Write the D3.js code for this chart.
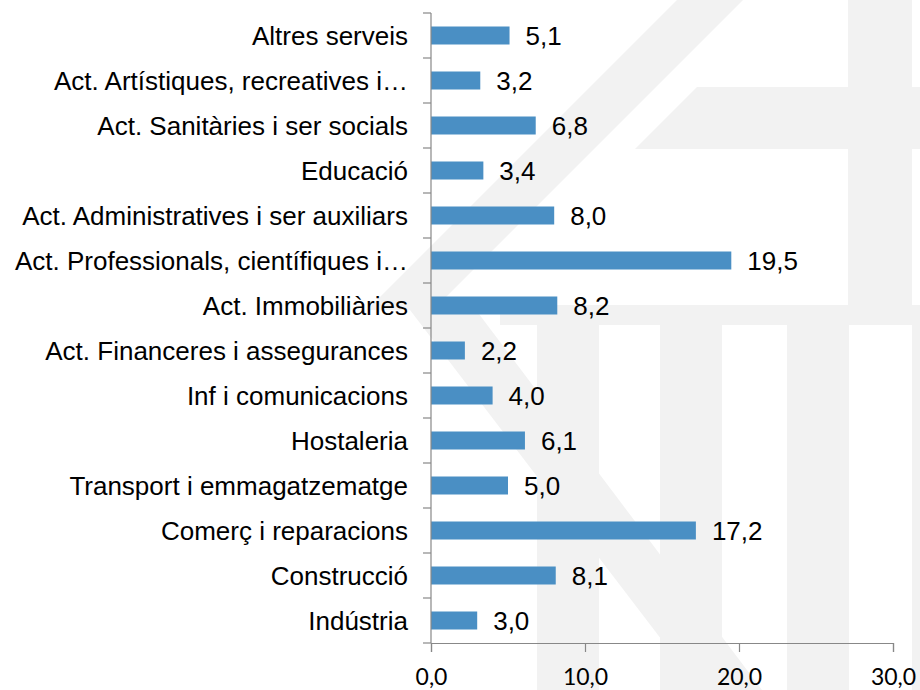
<!DOCTYPE html>
<html lang="ca">
<head>
<meta charset="UTF-8">
<title>Sectors</title>
<script src="https://d3js.org/d3.v7.min.js"></script>
<style>
  body { margin: 0; background: #fff; }
  .cat, .val { font-family: "Liberation Sans", Arial, sans-serif; font-size: 26px; fill: #000; }
  .tick text { font-family: Lato, "Liberation Sans", sans-serif; font-size: 23px; fill: #000; }
  .bar { fill: #4a8fc4; }
</style>
</head>
<body>
<div id="chart"></div>
<script>
const categories = [
  "Altres serveis",
  "Act. Artístiques, recreatives i…",
  "Act. Sanitàries i ser socials",
  "Educació",
  "Act. Administratives i ser auxiliars",
  "Act. Professionals, científiques i…",
  "Act. Immobiliàries",
  "Act. Financeres i assegurances",
  "Inf i comunicacions",
  "Hostaleria",
  "Transport i emmagatzematge",
  "Comerç i reparacions",
  "Construcció",
  "Indústria"
];
const values = [5.1, 3.2, 6.8, 3.4, 8.0, 19.5, 8.2, 2.2, 4.0, 6.1, 5.0, 17.2, 8.1, 3.0];
const xTicks = [0, 10, 20, 30];

const width = 920, height = 690;
const fmt = v => d3.format(".1f")(v).replace(".", ",");

const svg = d3.select("#chart").append("svg")
    .attr("width", width)
    .attr("height", height);

// faint watermark behind the chart
const wmColor = "#f2f2f2";
const wm = svg.append("g").attr("fill", wmColor);
wm.append("polygon").attr("points", "677,0 743,0 433,310 367,310");
wm.append("polygon").attr("points", "410,310 476,310 762,690 700,690");
wm.append("rect").attr("x", 848).attr("y", 0).attr("width", 64).attr("height", 305);
wm.append("polygon").attr("points", "697,87 920,87 920,149 635,149");
wm.append("rect").attr("x", 500).attr("y", 305).attr("width", 420).attr("height", 20);
[537, 660, 787, 912].forEach(x0 => {
  wm.append("rect").attr("x", x0).attr("y", 325).attr("width", 62).attr("height", 365);
});

const x = d3.scaleLinear().domain([0, 30]).range([431, 893]);
const y = d3.scaleBand().domain(categories).range([13, 643])
    .paddingInner(0.6).paddingOuter(0.3);

// bars
svg.selectAll("rect.bar")
  .data(values)
  .join("rect")
    .attr("class", "bar")
    .attr("x", x(0))
    .attr("y", (d, i) => y(categories[i]))
    .attr("width", d => x(d) - x(0))
    .attr("height", y.bandwidth());

// value labels
svg.selectAll("text.val")
  .data(values)
  .join("text")
    .attr("class", "val")
    .attr("x", d => x(d) + 16)
    .attr("y", (d, i) => y(categories[i]) + y.bandwidth() / 2)
    .attr("dy", "0.36em")
    .text(d => fmt(d));

// category labels
svg.selectAll("text.cat")
  .data(categories)
  .join("text")
    .attr("class", "cat")
    .attr("x", x(0) - 23)
    .attr("y", d => y(d) + y.bandwidth() / 2)
    .attr("dy", "0.36em")
    .attr("text-anchor", "end")
    .text(d => d);

// vertical axis: line + ticks between categories
const axisColor = "#888";
const [y0, y1] = y.range();
svg.append("line")
    .attr("x1", x(0)).attr("x2", x(0))
    .attr("y1", y0).attr("y2", y1)
    .attr("stroke", axisColor).attr("stroke-width", 1.2);
svg.selectAll("line.ytick")
  .data(d3.range(categories.length + 1))
  .join("line")
    .attr("class", "ytick")
    .attr("x1", x(0) - 8).attr("x2", x(0))
    .attr("y1", i => y0 + i * y.step())
    .attr("y2", i => y0 + i * y.step())
    .attr("stroke", axisColor).attr("stroke-width", 1.2);

// horizontal axis
const xAxis = svg.append("g")
    .attr("transform", `translate(0,${y1})`)
    .call(d3.axisBottom(x).tickValues(xTicks).tickSize(9).tickFormat(fmt));
xAxis.attr("font-family", null).attr("font-size", null);
xAxis.select(".domain").attr("stroke", axisColor).attr("stroke-width", 1.2);
xAxis.selectAll(".tick line").attr("stroke", axisColor).attr("stroke-width", 1.2);
xAxis.selectAll(".tick text").attr("y", 42).attr("dy", 0);
</script>
</body>
</html>
